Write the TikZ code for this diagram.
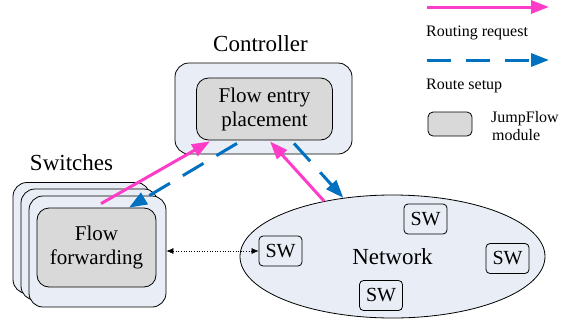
\documentclass[tikz,border=0pt]{standalone}
\usepackage{fontspec}
\setmainfont{Liberation Serif}
\usetikzlibrary{arrows.meta,shapes.geometric,calc}

\definecolor{boxfill}{RGB}{233,238,246}
\definecolor{modfill}{RGB}{217,217,217}
\definecolor{reqpink}{RGB}{255,60,200}
\definecolor{setblue}{RGB}{0,112,192}

\tikzset{
  outerbox/.style={draw=black, line width=0.8pt, fill=boxfill, rounded corners=14pt, inner sep=0pt},
  modbox/.style={draw=black, line width=0.8pt, fill=modfill, rounded corners=12pt, inner sep=0pt,
    align=center, font=\fontsize{21}{24}\selectfont},
  swbox/.style={draw=black, line width=0.8pt, fill=boxfill, rounded corners=4pt, inner sep=0pt,
    minimum width=43pt, minimum height=30pt, font=\fontsize{20}{24}\selectfont},
  title/.style={inner sep=0pt, font=\fontsize{23}{27}\selectfont},
  legtext/.style={inner sep=0pt, anchor=west, font=\fontsize{16}{18}\selectfont},
  request/.style={draw=reqpink, line width=3pt, -{Triangle[length=18pt,width=13pt]}},
  setup/.style={draw=setblue, line width=3pt, dash pattern=on 24pt off 15pt,
    -{Triangle[length=18pt,width=13pt]}},
  link/.style={draw=black, line width=0.6pt, dotted,
    {Latex[length=7pt,width=6pt]}-{Latex[length=7pt,width=6pt]}}
}

\begin{document}
\begin{tikzpicture}[x=1pt, y=-1pt]
  \useasboundingbox (0,0) rectangle (562,322);

  % controller
  \node[outerbox, minimum width=177pt, minimum height=91pt] (ctrl) at (263.5,108.5) {};
  \node[modbox, minimum width=136pt, minimum height=62pt] (fep) at (264.5,109)
    {Flow entry\\placement};
  \node[title] (ctrltitle) at (260.5,44) {Controller};

  % stacked switches
  \node[outerbox, minimum width=137pt, minimum height=111pt] (sw3) at (81.5,238) {};
  \node[outerbox, minimum width=137pt, minimum height=111pt] (sw2) at (89.5,244.5) {};
  \node[outerbox, minimum width=137pt, minimum height=111pt] (sw1) at (97.5,251.5) {};
  \node[modbox, minimum width=119pt, minimum height=79pt] (ff) at (96.5,247.5)
    {Flow\\forwarding};
  \node[title] (swtitle) at (71.5,163) {Switches};

  % network
  \node[draw=black, line width=0.8pt, fill=boxfill, ellipse, inner sep=0pt,
    minimum width=305pt, minimum height=123pt,
    font=\fontsize{23}{27}\selectfont] (net) at (392.5,256.5) {Network};
  \node[swbox] (swA) at (280.5,251) {SW};
  \node[swbox] (swB) at (425.5,219) {SW};
  \node[swbox] (swC) at (507.5,258.5) {SW};
  \node[swbox] (swD) at (381,295.5) {SW};

  % data-plane link
  \draw[link] (sw1.east |- swA.west) -- (swA.west);

  % routing requests and route setups
  \draw[request] ([shift={(4.5,-4)}]ff.north) -- ([shift={(-54.5,1)}]fep.south);
  \draw[setup] ([shift={(-27.5,3)}]fep.south) -- ([shift={(32.5,0)}]ff.north);
  \draw[request] (net.141) -- ([shift={(5.5,1)}]fep.south);
  \draw[setup] ([shift={(29.5,3)}]fep.south) -- (net.130);

  % legend
  \coordinate (lgA1) at (427,7);
  \coordinate (lgA2) at (549,7);
  \coordinate (lgB1) at (427,60);
  \coordinate (lgB2) at (549,60);
  \draw[request] (lgA1) -- (lgA2);
  \node[legtext] (lgreq) at (426,33) {Routing request};
  \draw[setup] (lgB1) -- (lgB2);
  \node[legtext] (lgset) at (426,86) {Route setup};
  \node[draw=black, line width=0.8pt, fill=modfill, rounded corners=5pt, inner sep=0pt,
    minimum width=44pt, minimum height=24pt] (lgmod) at (450,124) {};
  \node[legtext, align=left] (lgmodtext) at (491,126) {JumpFlow\\\hspace*{1pt}module};
\end{tikzpicture}
\end{document}
